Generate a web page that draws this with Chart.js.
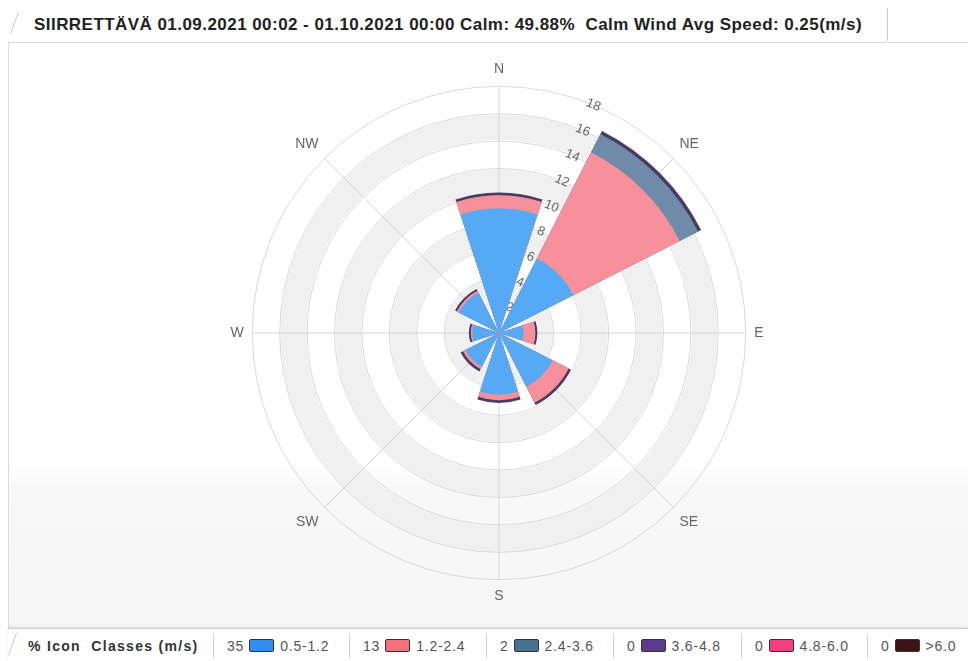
<!DOCTYPE html>
<html lang="fi">
<head>
  <meta charset="UTF-8">
  <title>Wind rose</title>
  <script src="https://cdn.jsdelivr.net/npm/chart.js"></script>
  <style>
    body {
      margin: 0;
      width: 968px;
      height: 661px;
      overflow: hidden;
      position: relative;
      background: #fff;
      font-family: 'Liberation Sans', Arial, sans-serif;
    }

    .title {
      position: absolute;
      left: 10px;
      top: 8px;
      width: 878px;
      height: 33px;
      border-right: 1px solid #c8c8c8;
      font-weight: bold;
      font-size: 17px;
      letter-spacing: 0.45px;
      line-height: 33px;
      color: #222;
      padding-left: 24px;
      box-sizing: border-box;
      white-space: nowrap;
    }
    .title::before, .legend-bar::before {
      content: '';
      position: absolute;
      left: 4px;
      top: 4px;
      height: 22px;
      border-left: 1px solid #c8c8c8;
      transform: skewX(-20deg);
    }
    .title-line {
      position: absolute;
      left: 8px;
      right: 0;
      top: 42px;
      border-top: 1px solid #d8d8d8;
    }

    .plot {
      position: absolute;
      left: 8px;
      top: 43px;
      width: 960px;
      height: 585px;
      border-left: 1px solid #dcdcdc;
      background: linear-gradient(#fff 0%, #fff 72%, #f8f8f8 76%, #f6f6f6 100%);
    }

    .chart-box {
      position: absolute;
      left: 31px;
      top: 45px;
      width: 936px;
      height: 576px;
    }

    .legend-bar {
      position: absolute;
      left: 8px;
      top: 628px;
      width: 960px;
      height: 33px;
      border-top: 1px solid #c8c8c8;
      box-shadow: 0 -1px 3px rgba(0,0,0,0.08);
      background: #fff;
      display: flex;
      align-items: center;
      font-size: 14px;
      color: #555;
    }
    .legend-bar .head {
      padding-left: 20px;
      width: 205px;
      box-sizing: border-box;
      font-weight: bold;
      letter-spacing: 1.3px;
      color: #333;
    }
    .legend-bar .item {
      display: flex;
      align-items: center;
      height: 24px;
      border-left: 1px solid #d0d0d0;
      box-sizing: border-box;
      padding-left: 13px;
      letter-spacing: 0.8px;
    }
    .legend-bar .swatch {
      display: inline-block;
      width: 23px;
      height: 11px;
      border: 1px solid #333;
      border-radius: 2px;
      margin: 0 6px 0 5px;
    }
  </style>
</head>
<body>

<div class="title">SIIRRETTÄVÄ 01.09.2021 00:02 - 01.10.2021 00:00 Calm: 49.88%&nbsp; Calm Wind Avg Speed: 0.25(m/s)</div>
<div class="title-line"></div>

<div class="plot"></div>
<div class="chart-box">
  <canvas id="roseChart"></canvas>
</div>

<div class="legend-bar" id="legendBar">
  <div class="head">% Icon&nbsp; Classes (m/s)</div>
</div>

<script>
  // Directions and wind speed classes
  const directions = ['N', 'NE', 'E', 'SE', 'S', 'SW', 'W', 'NW'];
  const speedClasses = ['0.5-1.2', '1.2-2.4', '2.4-3.6', '3.6-4.8', '4.8-6.0', '>6.0'];
  const classPercent = [35, 13, 2, 0, 0, 0];
  const classColors = ['#56aaf5', '#f7909a', '#6e8ba9', '#4b3a64', '#f0407e', '#3a1418'];
  const swatchColors = ['#2f8ff0', '#f4717e', '#4a7090', '#5d3b8c', '#f0407e', '#3a1418'];

  // Frequency (%) per direction, N NE E SE S SW W NW
  const speed05_12 = [9.1, 6.1, 1.8, 4.4, 4.5, 2.75, 1.95, 3.3];
  const speed12_24 = [0.95, 8.7, 0.85, 1.3, 0.4, 0.2, 0.1, 0.15];
  const speed24_36 = [0, 1.5, 0, 0, 0, 0, 0, 0];
  const speed36_48 = [0.2, 0.25, 0.15, 0.2, 0.2, 0.2, 0.15, 0.15];
  const speed48_60 = [0, 0, 0, 0, 0, 0, 0, 0];
  const speed60_up = [0, 0, 0, 0, 0, 0, 0, 0];
  const classValues = [speed05_12, speed12_24, speed24_36, speed36_48, speed48_60, speed60_up];

  const tickMax = 18;

  // slots go clockwise from 22.5 deg: gap, NE, gap, E, ... gap, N
  const slotOrder = [1, 2, 3, 4, 5, 6, 7, 0];
  const labels = [];
  slotOrder.forEach(d => labels.push('', directions[d]));

  // stacked rose: each dataset holds the running total, smallest drawn on top
  const datasets = [];
  const running = directions.map(() => 0);
  classValues.forEach((vals, c) => {
    vals.forEach((v, d) => running[d] += v);
    if (vals.every(v => v === 0)) return;
    const data = [];
    slotOrder.forEach(d => data.push(0, +running[d].toFixed(2)));
    datasets.push({
      label: speedClasses[c],
      data: data,
      backgroundColor: ctx => ctx.dataIndex % 2 === 0 ? 'rgba(0,0,0,0)' : classColors[c],
      borderWidth: 0,
      angle: ctx => ctx.dataIndex === 0 ? 4.5 : (ctx.dataIndex % 2 === 0 ? 9 : 36)
    });
  });

  new Chart(document.getElementById('roseChart'), {
    type: 'polarArea',
    data: { labels: labels, datasets: datasets },
    options: {
      responsive: true,
      maintainAspectRatio: false,
      animation: false,
      layout: { padding: 16 },
      plugins: {
        legend: { display: false },
        tooltip: { enabled: false }
      },
      scales: {
        r: {
          min: 0,
          max: tickMax,
          startAngle: 22.5,
          ticks: {
            stepSize: 1,
            callback: v => v % 2 === 0 ? v : '',
            color: '#666',
            font: { family: 'Liberation Sans', size: 13 },
            showLabelBackdrop: false
          },
          grid: {
            circular: true,
            color: ctx => ctx.tick.value % 2 === 0 ? '#d9d9d9' : '#f0f0f0',
            lineWidth: ctx => {
              const v = ctx.tick.value;
              if (v % 2 === 0) return 1;
              if (v % 4 === 3) return ctx.scale.drawingArea * 2 / tickMax - 2;
              return 0;
            }
          },
          angleLines: {
            display: true,
            color: '#d6d6d6',
            lineWidth: ctx => ctx.label ? 1 : 0
          },
          pointLabels: {
            display: true,
            color: '#666',
            font: { family: 'Liberation Sans', size: 14 },
            padding: 0
          }
        }
      }
    }
  });

  // bottom legend bar
  const bar = document.getElementById('legendBar');
  const itemWidths = [136, 137, 127, 128, 126, 93];
  speedClasses.forEach((name, i) => {
    const item = document.createElement('div');
    item.className = 'item';
    item.style.width = itemWidths[i] + 'px';
    item.innerHTML = '<span>' + classPercent[i] + '</span><span class="swatch" style="background:' +
      swatchColors[i] + '"></span><span>' + name.replace('>', '&gt;') + '</span>';
    bar.appendChild(item);
  });
</script>

</body>
</html>
